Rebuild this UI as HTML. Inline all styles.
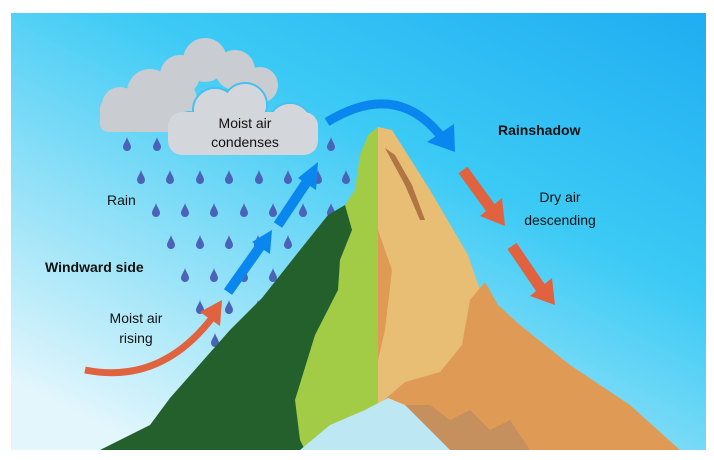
<!DOCTYPE html>
<html><head><meta charset="utf-8"><style>
html,body{margin:0;padding:0;background:#fff;width:714px;height:460px;overflow:hidden}
svg{display:block}
text{font-family:"Liberation Sans",sans-serif;fill:#111}
</style></head><body>
<svg width="714" height="460" viewBox="0 0 714 460">
<defs>
<linearGradient id="sky" x1="1" y1="0" x2="0.2" y2="1">
<stop offset="0" stop-color="#20adf2"/>
<stop offset="0.4" stop-color="#3ccaf5"/>
<stop offset="0.75" stop-color="#9ce4f8"/>
<stop offset="1" stop-color="#e2f6fc"/>
</linearGradient>
<g id="d"><path d="M0,-7 C1,-3 4,0 4,3 A4,4 0 0 1 -4,3 C-4,0 -1,-3 0,-7Z" fill="#4a63b8"/></g>
</defs>
<rect x="11" y="13" width="695" height="437" fill="url(#sky)"/>
<g fill="#c9ccd1">
<circle cx="205" cy="60" r="22"/><circle cx="180" cy="75" r="20"/><circle cx="235" cy="70" r="20"/><circle cx="260" cy="85" r="18"/>
<circle cx="150" cy="92" r="23"/><circle cx="120" cy="105" r="18"/><circle cx="175" cy="100" r="22"/>
<rect x="100" y="100" width="130" height="32" rx="8"/>
</g>
<g fill="#d3d6da" stroke="#47bff0" stroke-width="2">
<circle cx="215" cy="110" r="22"/><circle cx="245" cy="105" r="22"/><circle cx="290" cy="125" r="22"/><circle cx="190" cy="130" r="18"/>
</g>
<rect x="168" y="112" width="150" height="43" rx="14" fill="#d3d6da"/>
<g fill="#d3d6da"><circle cx="215" cy="110" r="21"/><circle cx="245" cy="105" r="21"/><circle cx="290" cy="125" r="21"/><circle cx="190" cy="130" r="17"/></g>
<text x="245" y="128" font-size="14" text-anchor="middle">Moist air</text>
<text x="245" y="147" font-size="14" text-anchor="middle">condenses</text>
<g>
<use href="#d" x="127" y="144"/><use href="#d" x="157" y="144"/><use href="#d" x="331" y="144"/>
<use href="#d" x="141" y="177"/><use href="#d" x="170" y="177"/><use href="#d" x="200" y="177"/><use href="#d" x="229" y="177"/><use href="#d" x="259" y="177"/><use href="#d" x="288" y="177"/><use href="#d" x="318" y="177"/><use href="#d" x="346" y="177"/>
<use href="#d" x="156" y="210"/><use href="#d" x="185" y="210"/><use href="#d" x="214" y="210"/><use href="#d" x="244" y="210"/><use href="#d" x="273" y="210"/><use href="#d" x="303" y="210"/><use href="#d" x="331" y="210"/>
<use href="#d" x="171" y="242"/><use href="#d" x="200" y="242"/><use href="#d" x="229" y="242"/><use href="#d" x="258" y="242"/><use href="#d" x="288" y="242"/><use href="#d" x="317" y="242"/>
<use href="#d" x="185" y="275"/><use href="#d" x="214" y="275"/><use href="#d" x="244" y="275"/><use href="#d" x="273" y="275"/>
<use href="#d" x="200" y="307"/><use href="#d" x="229" y="307"/><use href="#d" x="258" y="307"/>
<use href="#d" x="215" y="340"/><use href="#d" x="232" y="340"/>
</g>
<path d="M300,450 L290,400 L310,340 L335,290 L335,260 L345,205 L355,190 L360,155 L368,135 L378,127 L378,405 L350,425 L320,450Z" fill="#a2cc45"/>
<path d="M100,450 L150,425 L170,398 L230,330 L262,298 L300,250 L328,215 L345,205 L352,230 L340,260 L338,290 L315,335 L295,400 L300,440 L305,450Z" fill="#24602c"/>
<path d="M378,127 L392,130 L430,190 L468,255 L480,290 L472,310 L462,350 L440,372 L405,382 L378,405Z" fill="#e8bd74"/>
<path d="M378,230 L392,270 L385,330 L378,360Z" fill="#df9b55"/>
<path d="M378,405 L405,382 L440,372 L462,345 L470,300 L485,282 L498,305 L520,325 L570,365 L630,405 L680,450 L400,450Z" fill="#df9b55"/>
<path d="M385,148 L405,185 L420,220 L425,220 L412,185 L395,155Z" fill="#b07542"/>
<path d="M400,405 L430,405 L450,420 L470,410 L490,430 L510,420 L530,450 L420,450Z" fill="#c58f5e"/>
<path d="M300,450 L330,425 L365,410 L388,398 L405,405 L425,425 L450,450Z" fill="#bde8f3"/>
<path d="M85,370 Q160,385 212,318" fill="none" stroke="#e0623f" stroke-width="7"/>
<path d="M200,312 L222,300 L220,326Z" fill="#e0623f"/>
<g stroke="#0a86ef" stroke-width="10"><line x1="228" y1="292" x2="262" y2="244"/><line x1="278" y1="225" x2="308" y2="180"/></g>
<path d="M252,242 L272,230 L270,254Z M298,178 L318,162 L316,190Z" fill="#0a86ef"/>
<path d="M327,122 Q395,80 440,135" fill="none" stroke="#0a86ef" stroke-width="9"/>
<path d="M427,142 L455,152 L454,124Z" fill="#0a86ef"/>
<g stroke="#e0623f" stroke-width="11"><line x1="463" y1="170" x2="492" y2="210"/><line x1="512" y1="246" x2="542" y2="290"/></g>
<path d="M480,216 L505,226 L502,198Z M530,296 L555,305 L552,278Z" fill="#e0623f"/>
<text x="107" y="205" font-size="14">Rain</text>
<text x="45" y="272" font-size="14" font-weight="bold">Windward side</text>
<text x="136" y="323" font-size="14" text-anchor="middle">Moist air</text>
<text x="136" y="343" font-size="14" text-anchor="middle">rising</text>
<text x="498" y="135" font-size="14" font-weight="bold">Rainshadow</text>
<text x="560" y="202" font-size="14" text-anchor="middle">Dry air</text>
<text x="560" y="225" font-size="14" text-anchor="middle">descending</text>
</svg>
</body></html>
